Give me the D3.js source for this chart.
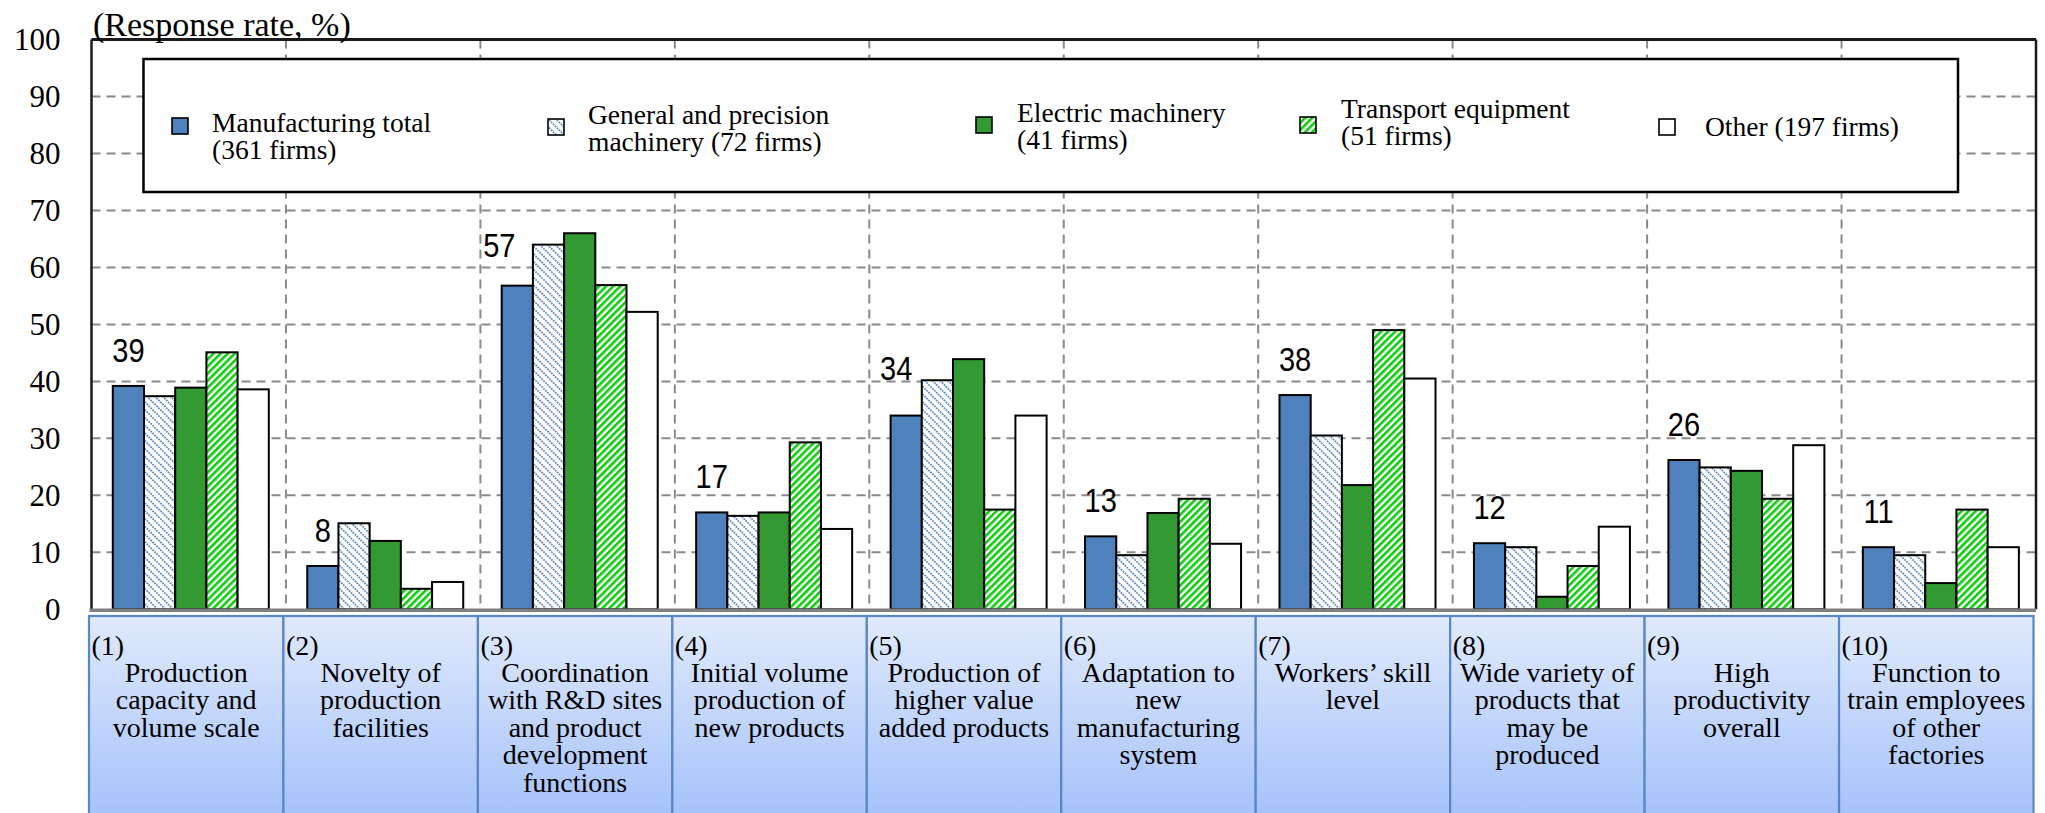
<!DOCTYPE html>
<html>
<head>
<meta charset="utf-8">
<script src="https://cdn.jsdelivr.net/npm/d3@7"></script>
<style>
  html, body { margin: 0; padding: 0; background: #fff; }
  svg { display: block; }
</style>
</head>
<body>
<svg id="chart" width="2045" height="813"></svg>
<script>
// ---- Data -------------------------------------------------------------
const categoryNumbers = ["(1)", "(2)", "(3)", "(4)", "(5)", "(6)", "(7)", "(8)", "(9)", "(10)"];
const categoryLines = [
  ["Production", "capacity and", "volume scale"],
  ["Novelty of", "production", "facilities"],
  ["Coordination", "with R&D sites", "and product", "development", "functions"],
  ["Initial volume", "production of", "new products"],
  ["Production of", "higher value", "added products"],
  ["Adaptation to", "new", "manufacturing", "system"],
  ["Workers\u2019 skill", "level"],
  ["Wide variety of", "products that", "may be", "produced"],
  ["High", "productivity", "overall"],
  ["Function to", "train employees", "of other", "factories"]
];

const seriesLabels = [
  ["Manufacturing total", "(361 firms)"],
  ["General and precision", "machinery (72 firms)"],
  ["Electric machinery", "(41 firms)"],
  ["Transport equipment", "(51 firms)"],
  ["Other (197 firms)"]
];

const manufacturingTotal = [39.2, 7.6, 56.8, 17.0, 34.0, 12.8, 37.6, 11.6, 26.2, 10.9];
const generalPrecision   = [37.4, 15.1, 64.0, 16.4, 40.2, 9.5, 30.5, 10.9, 24.9, 9.5];
const electricMachinery  = [38.9, 12.0, 66.0, 17.0, 43.9, 16.9, 21.8, 2.2, 24.3, 4.6];
const transportEquipment = [45.1, 3.6, 56.9, 29.3, 17.5, 19.4, 49.0, 7.6, 19.4, 17.5];
const otherIndustries    = [38.6, 4.8, 52.2, 14.1, 34.0, 11.5, 40.5, 14.5, 28.8, 10.9];

const yTicks = [0, 10, 20, 30, 40, 50, 60, 70, 80, 90, 100];
const yTitle = "(Response rate, %)";

// ---- Fonts: use a Times-like face when one is installed -------------------
function firstInstalled(candidates) {
  const ctx = document.createElement("canvas").getContext("2d");
  const probe = "mmmmmmmmmmlliWW(1)Rg&%";
  ctx.font = "72px monospace"; const wMono = ctx.measureText(probe).width;
  ctx.font = "72px sans-serif"; const wSans = ctx.measureText(probe).width;
  for (const c of candidates) {
    ctx.font = `72px "${c}", monospace`; const a = ctx.measureText(probe).width;
    ctx.font = `72px "${c}", sans-serif`; const b = ctx.measureText(probe).width;
    if (a !== wMono || b !== wSans) return c;
  }
  return null;
}
const serifFace = firstInstalled(["Liberation Serif", "Times New Roman", "Tinos", "DejaVu Serif",
  "Nimbus Roman", "FreeSerif", "Noto Serif", "Times"]);
const SERIF = serifFace ? `"${serifFace}", serif` : `"Liberation Sans", Arial, sans-serif`;
const SANS = `"Liberation Sans", Arial, Helvetica, sans-serif`;

// ---- Layout -----------------------------------------------------------
const svg = d3.select("#chart");
const plot = { left: 91.5, right: 2036, top: 39.5, bottom: 609.3 };
const series = [manufacturingTotal, generalPrecision, electricMachinery, transportEquipment, otherIndustries];
const fills = ["#4f81bd", "url(#hatchBlue)", "#339933", "url(#hatchGreen)", "#ffffff"];

const y = d3.scaleLinear().domain([0, 100]).range([plot.bottom, plot.top]);
const x0 = d3.scaleBand().domain(d3.range(categoryLines.length)).range([plot.left, plot.right]).padding(0);
const groupInset = 21.3, barW = 31.2;
const x1 = d3.scaleBand().domain(d3.range(series.length))
  .range([groupInset, groupInset + barW * series.length]).padding(0);

// ---- Patterns & gradient ---------------------------------------------
const defs = svg.append("defs");
const pBlue = defs.append("pattern").attr("id", "hatchBlue")
  .attr("patternUnits", "userSpaceOnUse").attr("width", 5.5).attr("height", 5.5)
  .attr("patternTransform", "rotate(-45)");
pBlue.append("rect").attr("width", 5.5).attr("height", 5.5).attr("fill", "#fff");
pBlue.append("line").attr("x1", 1).attr("y1", 0).attr("x2", 1).attr("y2", 5.5)
  .attr("stroke", "#4f81bd").attr("stroke-width", 1.6).attr("stroke-dasharray", "1.9,0.85");

const pGreen = defs.append("pattern").attr("id", "hatchGreen")
  .attr("patternUnits", "userSpaceOnUse").attr("width", 5).attr("height", 5)
  .attr("patternTransform", "rotate(45)");
pGreen.append("rect").attr("width", 5).attr("height", 5).attr("fill", "#fff");
pGreen.append("line").attr("x1", 1.3).attr("y1", 0).attr("x2", 1.3).attr("y2", 5)
  .attr("stroke", "#0ccc0c").attr("stroke-width", 2.6);

const grad = defs.append("linearGradient").attr("id", "boxGrad")
  .attr("gradientUnits", "userSpaceOnUse").attr("x1", 0).attr("y1", 616).attr("x2", 0).attr("y2", 813);
grad.append("stop").attr("offset", 0).attr("stop-color", "#e0eafc");
grad.append("stop").attr("offset", 1).attr("stop-color", "#a6c3fa");

// ---- Gridlines --------------------------------------------------------
const grid = svg.append("g").attr("stroke", "#8a8a8a").attr("stroke-width", 2).attr("stroke-dasharray", "9,6");
grid.selectAll("line.h").data(yTicks.filter(t => t > 0 && t < 100)).join("line")
  .attr("class", "h").attr("x1", plot.left).attr("x2", plot.right)
  .attr("y1", d => y(d)).attr("y2", d => y(d));
grid.selectAll("line.v").data(d3.range(1, categoryLines.length)).join("line")
  .attr("class", "v").attr("x1", d => x0(d)).attr("x2", d => x0(d))
  .attr("y1", plot.top).attr("y2", plot.bottom);

// ---- Bars -------------------------------------------------------------
const groups = svg.append("g").selectAll("g").data(d3.range(categoryLines.length)).join("g")
  .attr("transform", i => `translate(${x0(i)},0)`);
groups.selectAll("rect").data(i => series.map((s, j) => ({ j, v: s[i] }))).join("rect")
  .attr("x", d => x1(d.j)).attr("width", x1.bandwidth())
  .attr("y", d => y(d.v)).attr("height", d => y(0) - y(d.v))
  .attr("fill", d => fills[d.j]).attr("stroke", "#000").attr("stroke-width", 2);

// ---- Frame ------------------------------------------------------------
const frame = svg.append("g");
frame.append("line").attr("x1", plot.left).attr("x2", plot.right).attr("y1", plot.top).attr("y2", plot.top)
  .attr("stroke", "#1a1a1a").attr("stroke-width", 3);
frame.append("line").attr("x1", plot.right).attr("x2", plot.right).attr("y1", plot.top).attr("y2", plot.bottom)
  .attr("stroke", "#1a1a1a").attr("stroke-width", 2.5);
frame.append("line").attr("x1", plot.left).attr("x2", plot.left).attr("y1", plot.top).attr("y2", plot.bottom)
  .attr("stroke", "#1a1a1a").attr("stroke-width", 2.5);
frame.append("line").attr("x1", plot.left - 2).attr("x2", plot.right).attr("y1", y(0) + 1).attr("y2", y(0) + 1)
  .attr("stroke", "#808080").attr("stroke-width", 3.5);

// ---- Y axis -----------------------------------------------------------
const yAxis = svg.append("g").attr("transform", `translate(${plot.left},0)`)
  .call(d3.axisLeft(y).tickValues(yTicks).tickSize(0).tickPadding(31).tickFormat(d3.format("d")));
yAxis.select(".domain").remove();
yAxis.attr("font-family", SERIF).attr("font-size", 31);
yAxis.selectAll("text").attr("fill", "#000");

svg.append("text").attr("x", 93).attr("y", 36)
  .attr("font-family", SERIF).attr("font-size", 34).text(yTitle);

// ---- Legend -----------------------------------------------------------
svg.append("rect").attr("x", 143.5).attr("y", 59).attr("width", 1814.5).attr("height", 133)
  .attr("fill", "#fff").attr("stroke", "#000").attr("stroke-width", 2.5);
const legendPos = [
  { sx: 172, sy: 118, tx: 212, base: [132, 159] },
  { sx: 548, sy: 119, tx: 588, base: [124, 151] },
  { sx: 976, sy: 117, tx: 1017, base: [122, 149] },
  { sx: 1300, sy: 117, tx: 1341, base: [118, 145] },
  { sx: 1659, sy: 119, tx: 1705, base: [136] }
];
const legend = svg.append("g").attr("font-family", SERIF).attr("font-size", 27.5);
seriesLabels.forEach((lines, j) => {
  const p = legendPos[j];
  legend.append("rect").attr("x", p.sx).attr("y", p.sy).attr("width", 16).attr("height", 16)
    .attr("fill", fills[j]).attr("stroke", "#000").attr("stroke-width", 1.6);
  lines.forEach((t, k) => {
    legend.append("text").attr("x", p.tx).attr("y", p.base[k]).text(t);
  });
});

// ---- Value labels for the manufacturing total --------------------------
// small nudges keep a label clear of a taller neighbouring bar
const labelNudge = { 2: [-18, -5], 4: [-10, -12] };
const fmt = d3.format(".0f");
svg.append("g").attr("font-family", SANS).attr("font-size", 33)
  .selectAll("text").data(manufacturingTotal).join("text")
  .attr("transform", (v, i) => {
    const n = labelNudge[i] || [0, 0];
    const cx = x0(i) + x1(0) + x1.bandwidth() / 2 + n[0];
    const cy = y(v) - 24 + n[1];
    return `translate(${cx},${cy}) scale(0.88,1)`;
  })
  .attr("text-anchor", "middle")
  .text(v => fmt(v));

// ---- Category boxes ----------------------------------------------------
const boxes = svg.append("g").attr("font-family", SERIF).attr("font-size", 28)
  .selectAll("g").data(d3.range(categoryLines.length)).join("g")
  .attr("transform", i => `translate(${x0(i) - 2.5},0)`);
boxes.append("rect").attr("x", 0).attr("y", 616).attr("width", x0.bandwidth()).attr("height", 220)
  .attr("fill", "url(#boxGrad)").attr("stroke", "#5a86c5").attr("stroke-width", 2.2);
boxes.append("text").attr("x", 2.5).attr("y", 655).text(i => categoryNumbers[i]);
boxes.each(function(i) {
  const g = d3.select(this);
  categoryLines[i].forEach((t, k) => {
    g.append("text").attr("x", x0.bandwidth() / 2).attr("y", 682 + k * 27.4)
      .attr("text-anchor", "middle").text(t);
  });
});
</script>
</body>
</html>
